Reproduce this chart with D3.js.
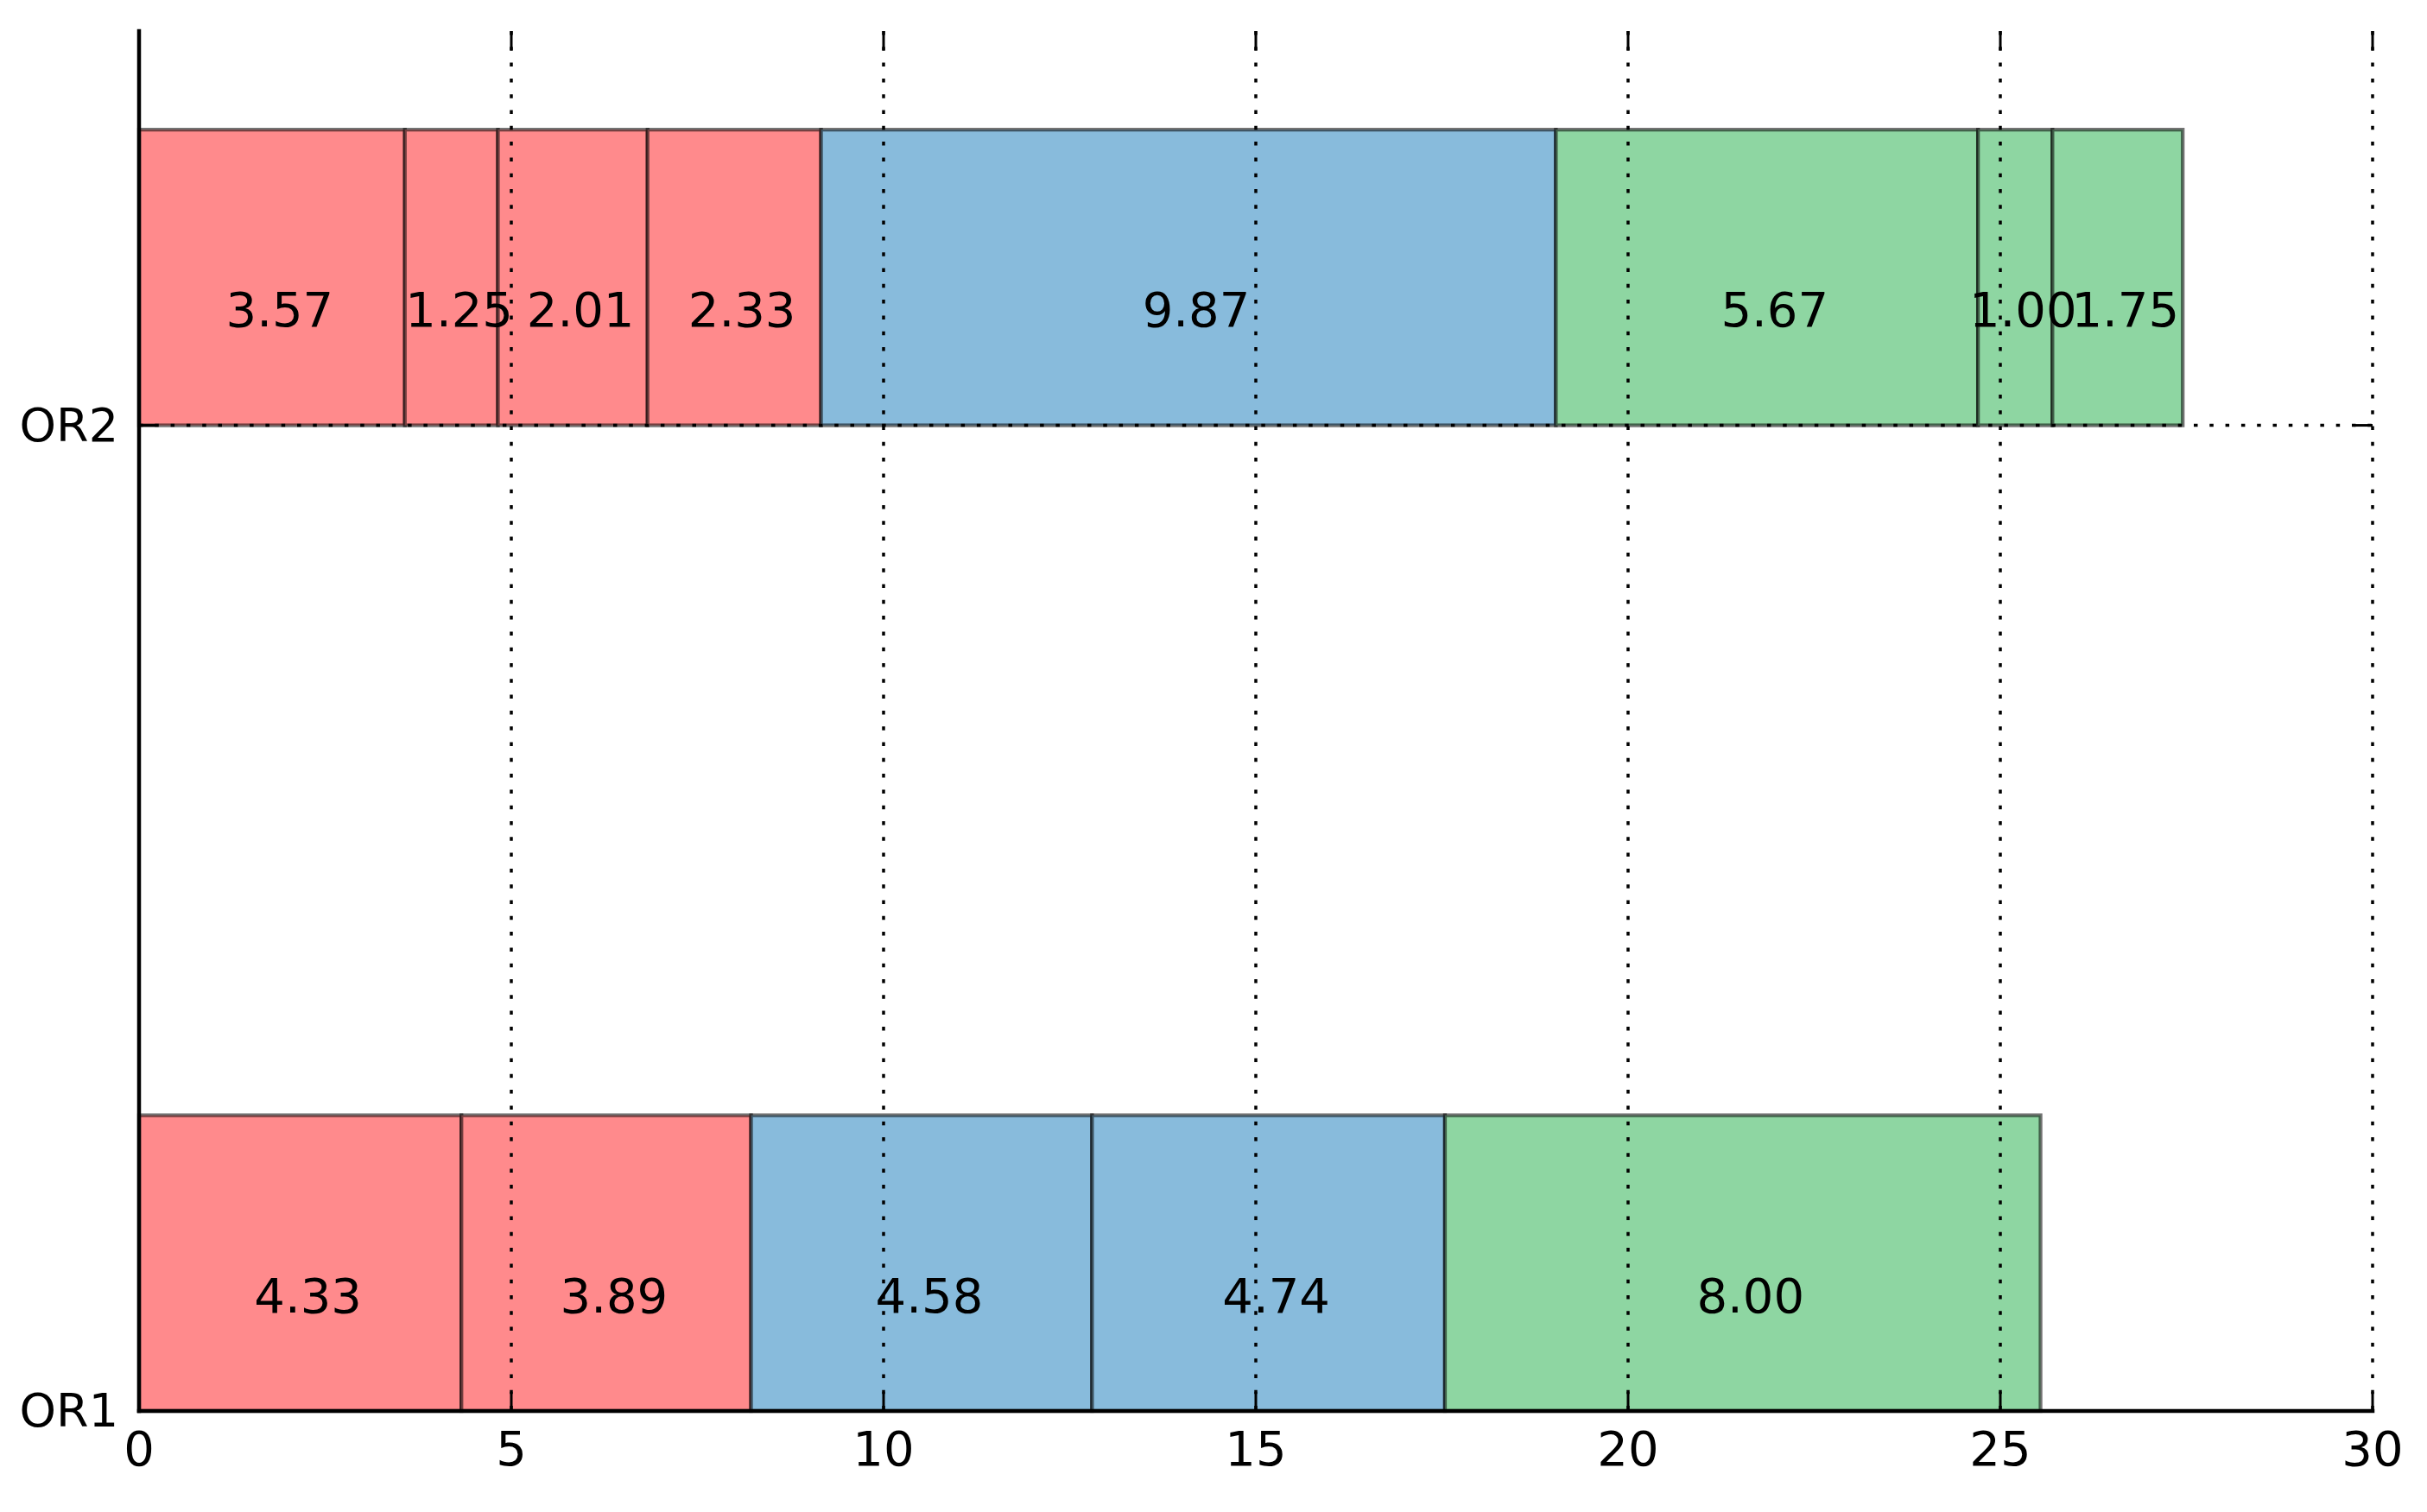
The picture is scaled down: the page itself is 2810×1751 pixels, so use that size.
<!DOCTYPE html>
<html><head><meta charset="utf-8">
<script src="https://cdn.jsdelivr.net/npm/d3@7/dist/d3.min.js"></script>
<style>body{margin:0;background:#fff}svg{display:block}</style>
</head><body><svg id="c" width="2810" height="1751"></svg>
<script>
const categories = ["OR1", "OR2"];
const categoryPos = [0, 1];
const or1Values = [4.33, 3.89, 4.58, 4.74, 8.00];
const or1Groups = ["red", "red", "blue", "blue", "green"];
const or2Values = [3.57, 1.25, 2.01, 2.33, 9.87, 5.67, 1.00, 1.75];
const or2Groups = ["red", "red", "red", "red", "blue", "green", "green", "green"];
const xTicks = [0, 5, 10, 15, 20, 25, 30];
const groupColors = {red: "#ff8a8c", blue: "#88bbdc", green: "#8ed6a2"};

(function () {
const plotL = 161, plotR = 2747, plotT = 36, plotB = 1634;
const barH = 0.3;
const FONT = "'DejaVu Sans', sans-serif";
const FS = 56;

const svg = d3.select("#c");
const x = d3.scaleLinear().domain([0, 30]).range([plotL, plotR]);
const y = d3.scaleLinear().domain([0, 1.4]).range([plotB, plotT]);

function stack(values, groups, pos, cat) {
  let acc = 0;
  return values.map((v, i) => {
    const s = {cat, pos, x0: acc, x1: acc + v, v, g: groups[i]};
    acc += v;
    return s;
  });
}
const segs = [
  ...stack(or1Values, or1Groups, categoryPos[0], categories[0]),
  ...stack(or2Values, or2Groups, categoryPos[1], categories[1])
];

// bars
svg.append("g").selectAll("rect").data(segs).join("rect")
  .attr("x", d => x(d.x0))
  .attr("y", d => y(d.pos + barH))
  .attr("width", d => x(d.x1) - x(d.x0))
  .attr("height", d => y(d.pos) - y(d.pos + barH))
  .attr("fill", d => groupColors[d.g])
  .attr("stroke", "#000")
  .attr("stroke-opacity", 0.55)
  .attr("stroke-width", 4.3);

// grid
const grid = svg.append("g").attr("stroke", "#000").attr("stroke-width", 3.5)
  .attr("stroke-dasharray", "4.5,13.8").attr("fill", "none");
grid.selectAll("line.v").data(xTicks).join("line").attr("class", "v")
  .attr("x1", d => x(d)).attr("x2", d => x(d))
  .attr("y1", y(1.4)).attr("y2", y(0));
grid.selectAll("line.h").data(categoryPos).join("line").attr("class", "h")
  .attr("x1", x(0)).attr("x2", x(30))
  .attr("y1", d => y(d)).attr("y2", d => y(d));

// value labels
svg.append("g").selectAll("text").data(segs).join("text")
  .attr("x", d => x((d.x0 + d.x1) / 2))
  .attr("dx", 9)
  .attr("y", d => y(d.pos + 0.1))
  .attr("text-anchor", "middle")
  .attr("font-family", FONT).attr("font-size", FS).attr("fill", "#000")
  .text(d => d.v.toFixed(2));

// ticks (inward, all sides)
const tk = svg.append("g").attr("stroke", "#000").attr("stroke-width", 3);
const TL = 22;
tk.selectAll("line.b").data(xTicks).join("line").attr("class", "b")
  .attr("x1", d => x(d)).attr("x2", d => x(d)).attr("y1", y(0)).attr("y2", y(0) - TL);
tk.selectAll("line.t").data(xTicks).join("line").attr("class", "t")
  .attr("x1", d => x(d)).attr("x2", d => x(d)).attr("y1", y(1.4)).attr("y2", y(1.4) + TL);
tk.selectAll("line.l").data(categoryPos).join("line").attr("class", "l")
  .attr("x1", x(0)).attr("x2", x(0) + TL).attr("y1", d => y(d)).attr("y2", d => y(d));
tk.selectAll("line.r").data(categoryPos).join("line").attr("class", "r")
  .attr("x1", x(30)).attr("x2", x(30) - TL).attr("y1", d => y(d)).attr("y2", d => y(d));

// spines
svg.append("line").attr("x1", x(0)).attr("x2", x(0)).attr("y1", y(1.4)).attr("y2", y(0))
  .attr("stroke", "#000").attr("stroke-width", 4.5).attr("stroke-linecap", "square");
svg.append("line").attr("x1", x(0)).attr("x2", x(30)).attr("y1", y(0)).attr("y2", y(0))
  .attr("stroke", "#000").attr("stroke-width", 4.5).attr("stroke-linecap", "square");

// tick labels
svg.append("g").selectAll("text").data(xTicks).join("text")
  .attr("x", d => x(d)).attr("y", y(0) + 63)
  .attr("text-anchor", "middle")
  .attr("font-family", FONT).attr("font-size", FS).attr("fill", "#000")
  .text(d => d);
svg.append("g").selectAll("text").data(categories).join("text")
  .attr("x", x(0) - 24).attr("y", (d, i) => y(categoryPos[i]) + 18)
  .attr("text-anchor", "end")
  .attr("font-family", FONT).attr("font-size", 54).attr("fill", "#000")
  .text(d => d);
})();
</script></body></html>
